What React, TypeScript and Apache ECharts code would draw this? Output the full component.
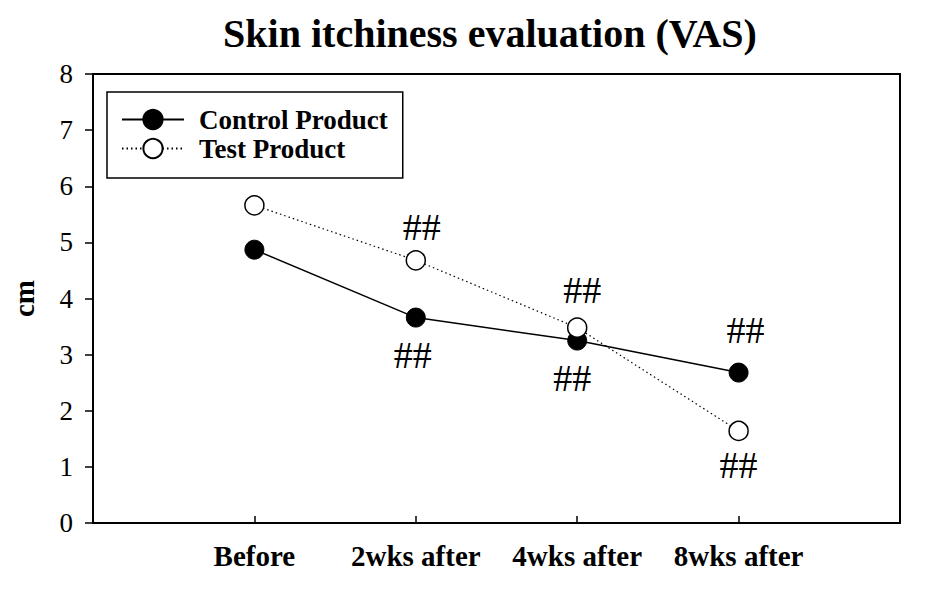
import React, { useEffect, useRef } from "react";
import * as echarts from "echarts";

const categories = ["Before", "2wks after", "4wks after", "8wks after"];
const controlValues = [4.87, 3.66, 3.25, 2.68];
const testValues = [5.66, 4.68, 3.48, 1.64];
const controlMarks = ["", "##", "##", "##"];
const testMarks = ["", "##", "##", "##"];
const yTicks = [0, 1, 2, 3, 4, 5, 6, 7, 8];

const FONT = "'Liberation Serif', 'Times New Roman', serif";

// label offsets (pixels) for the "##" marks
const controlOffsets: number[][] = [[0, 0], [-3, 37], [-5, 37], [7, -43]];
const testOffsets: number[][] = [[0, 0], [6, -33], [5, -38], [0, 34]];

function buildData(values: number[], marks: string[], offsets: number[][]) {
  return values.map((v, i) => ({
    value: [i + 1, v],
    label: {
      show: marks[i] !== "",
      formatter: marks[i],
      position: "inside",
      offset: offsets[i],
      fontFamily: FONT,
      fontSize: 38,
      color: "#000",
    },
  }));
}

export default function App() {
  const ref = useRef<HTMLDivElement>(null);
  useEffect(() => {
    if (!ref.current) return;
    const chart = echarts.init(ref.current, null, { renderer: "svg" });
    chart.setOption({
      animation: false,
      backgroundColor: "#fff",
      title: {
        text: "Skin itchiness evaluation (VAS)",
        left: 485,
        textAlign: "center",
        top: 8,
        textStyle: { fontFamily: FONT, fontSize: 40, fontWeight: "bold", color: "#000" },
      },
      legend: {
        left: 107,
        top: 92,
        orient: "vertical",
        padding: [14, 15, 16, 14],
        itemGap: 2,
        itemWidth: 62,
        itemHeight: 24,
        borderColor: "#000",
        borderWidth: 1.5,
        borderRadius: 0,
        textStyle: {
          fontFamily: FONT,
          fontSize: 27,
          lineHeight: 24,
          fontWeight: "bold",
          color: "#000",
          padding: [0, 0, 0, 10],
        },
        data: ["Control Product", "Test Product"],
      },
      grid: {
        left: 93,
        right: 40,
        top: 74,
        bottom: 72,
        show: true,
        borderColor: "#000",
        borderWidth: 2,
        backgroundColor: "transparent",
      },
      xAxis: {
        type: "value",
        min: 0,
        max: 5,
        interval: 1,
        axisLine: { lineStyle: { color: "#000", width: 2 } },
        axisTick: { show: true, inside: true, length: 7, lineStyle: { color: "#000", width: 1.5 } },
        splitLine: { show: false },
        axisLabel: {
          margin: 18,
          fontFamily: FONT,
          fontSize: 29,
          fontWeight: "bold",
          color: "#000",
          formatter: (v: number) => (v >= 1 && v <= categories.length ? categories[v - 1] : ""),
        },
      },
      yAxis: {
        type: "value",
        min: yTicks[0],
        max: yTicks[yTicks.length - 1],
        interval: 1,
        name: "cm",
        nameLocation: "middle",
        nameGap: 55,
        nameRotate: 90,
        nameTextStyle: { fontFamily: FONT, fontSize: 29, fontWeight: "bold", color: "#000" },
        axisLine: { show: true, lineStyle: { color: "#000", width: 2 } },
        axisTick: { show: true, inside: false, length: 8, lineStyle: { color: "#000", width: 1.5 } },
        splitLine: { show: false },
        axisLabel: { margin: 20, fontFamily: FONT, fontSize: 27, color: "#000" },
      },
      series: [
        {
          name: "Control Product",
          type: "line",
          data: buildData(controlValues, controlMarks, controlOffsets),
          symbol: "circle",
          symbolSize: 19,
          itemStyle: { color: "#000", borderColor: "#000", borderWidth: 1 },
          lineStyle: { color: "#000", width: 1.5, type: "solid" },
          z: 3,
        },
        {
          name: "Test Product",
          type: "line",
          data: buildData(testValues, testMarks, testOffsets),
          symbol: "circle",
          symbolSize: 19,
          itemStyle: { color: "#fff", borderColor: "#000", borderWidth: 1.5 },
          lineStyle: { color: "#000", width: 1.2, type: [1.5, 3] },
          z: 4,
        },
      ],
    });
    return () => chart.dispose();
  }, []);
  return (
    <div
      ref={ref}
      style={{ position: "absolute", left: 0, top: 0, width: 940, height: 595, background: "#fff" }}
    />
  );
}
